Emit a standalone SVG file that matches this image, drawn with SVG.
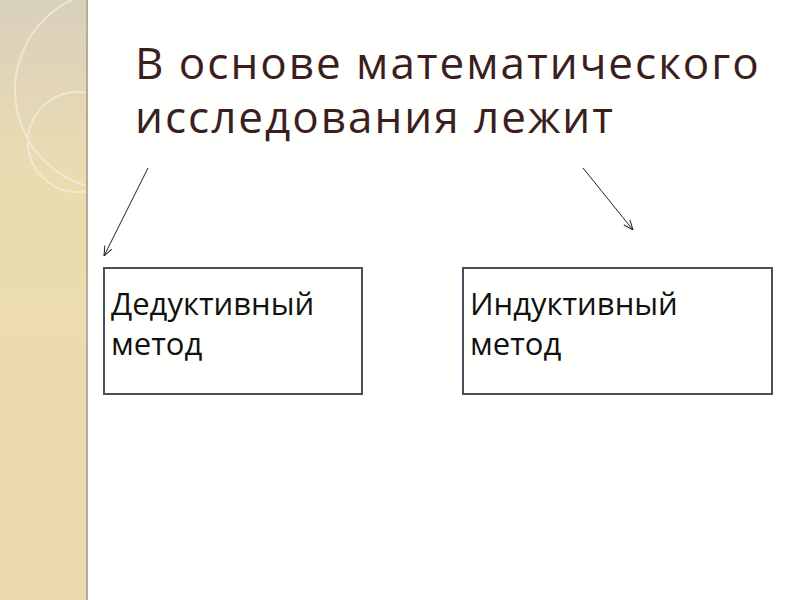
<svg xmlns="http://www.w3.org/2000/svg" width="800" height="600" viewBox="0 0 800 600">
  <defs>
    <linearGradient id="side" x1="0" y1="0" x2="0" y2="1">
      <stop offset="0" stop-color="#d9d0bd"/>
      <stop offset="0.1" stop-color="#dfd4b8"/>
      <stop offset="0.3" stop-color="#ebdcb0"/>
      <stop offset="1" stop-color="#ecdab0"/>
    </linearGradient>
    <marker id="arr" viewBox="0 0 10 10" refX="10" refY="5" markerWidth="10" markerHeight="10" orient="auto" markerUnits="userSpaceOnUse">
      <path d="M0,1 L10,5 L0,9" fill="none" stroke="#222" stroke-width="1"/>
    </marker>
    <clipPath id="sideclip"><rect x="0" y="0" width="86" height="600"/></clipPath>
  </defs>
  <style>
    .title { font-family: "Open Sans", "Noto Sans", sans-serif; font-size: 44px; letter-spacing: 2px; fill: #3b1e1e; }
    .box { fill: none; stroke: #4a4e5e; stroke-width: 2; }
    .lbl { font-family: "Open Sans", "Noto Sans", sans-serif; font-size: 31px; fill: #111; }
    .conn { stroke: #222; stroke-width: 1; fill: none; marker-end: url(#arr); }
  </style>
  <rect x="0" y="0" width="800" height="600" fill="#fffffd"/>
  <rect x="0" y="0" width="86" height="600" fill="url(#side)"/>
  <g clip-path="url(#sideclip)" fill="none" stroke="#f3ecdc" stroke-width="2" opacity="0.8">
    <circle cx="115" cy="90" r="100"/>
    <circle cx="78" cy="142" r="50"/>
  </g>
  <rect x="86" y="0" width="2" height="600" fill="#b5ab96"/>

  <g id="title">
    <text class="title" x="135" y="79">В основе математического</text>
    <text class="title" x="135" y="133">исследования лежит</text>
  </g>

  <g id="connectors">
    <line class="conn" x1="148" y1="168" x2="104" y2="256"/>
    <line class="conn" x1="583" y1="168" x2="633" y2="230"/>
  </g>

  <g id="deductive">
    <rect class="box" x="104" y="268" width="258" height="126"/>
    <text class="lbl" x="111" y="315">Дедуктивный</text>
    <text class="lbl" x="111" y="355">метод</text>
  </g>

  <g id="inductive">
    <rect class="box" x="463" y="268" width="309" height="126"/>
    <text class="lbl" x="470" y="315">Индуктивный</text>
    <text class="lbl" x="470" y="355">метод</text>
  </g>
</svg>
